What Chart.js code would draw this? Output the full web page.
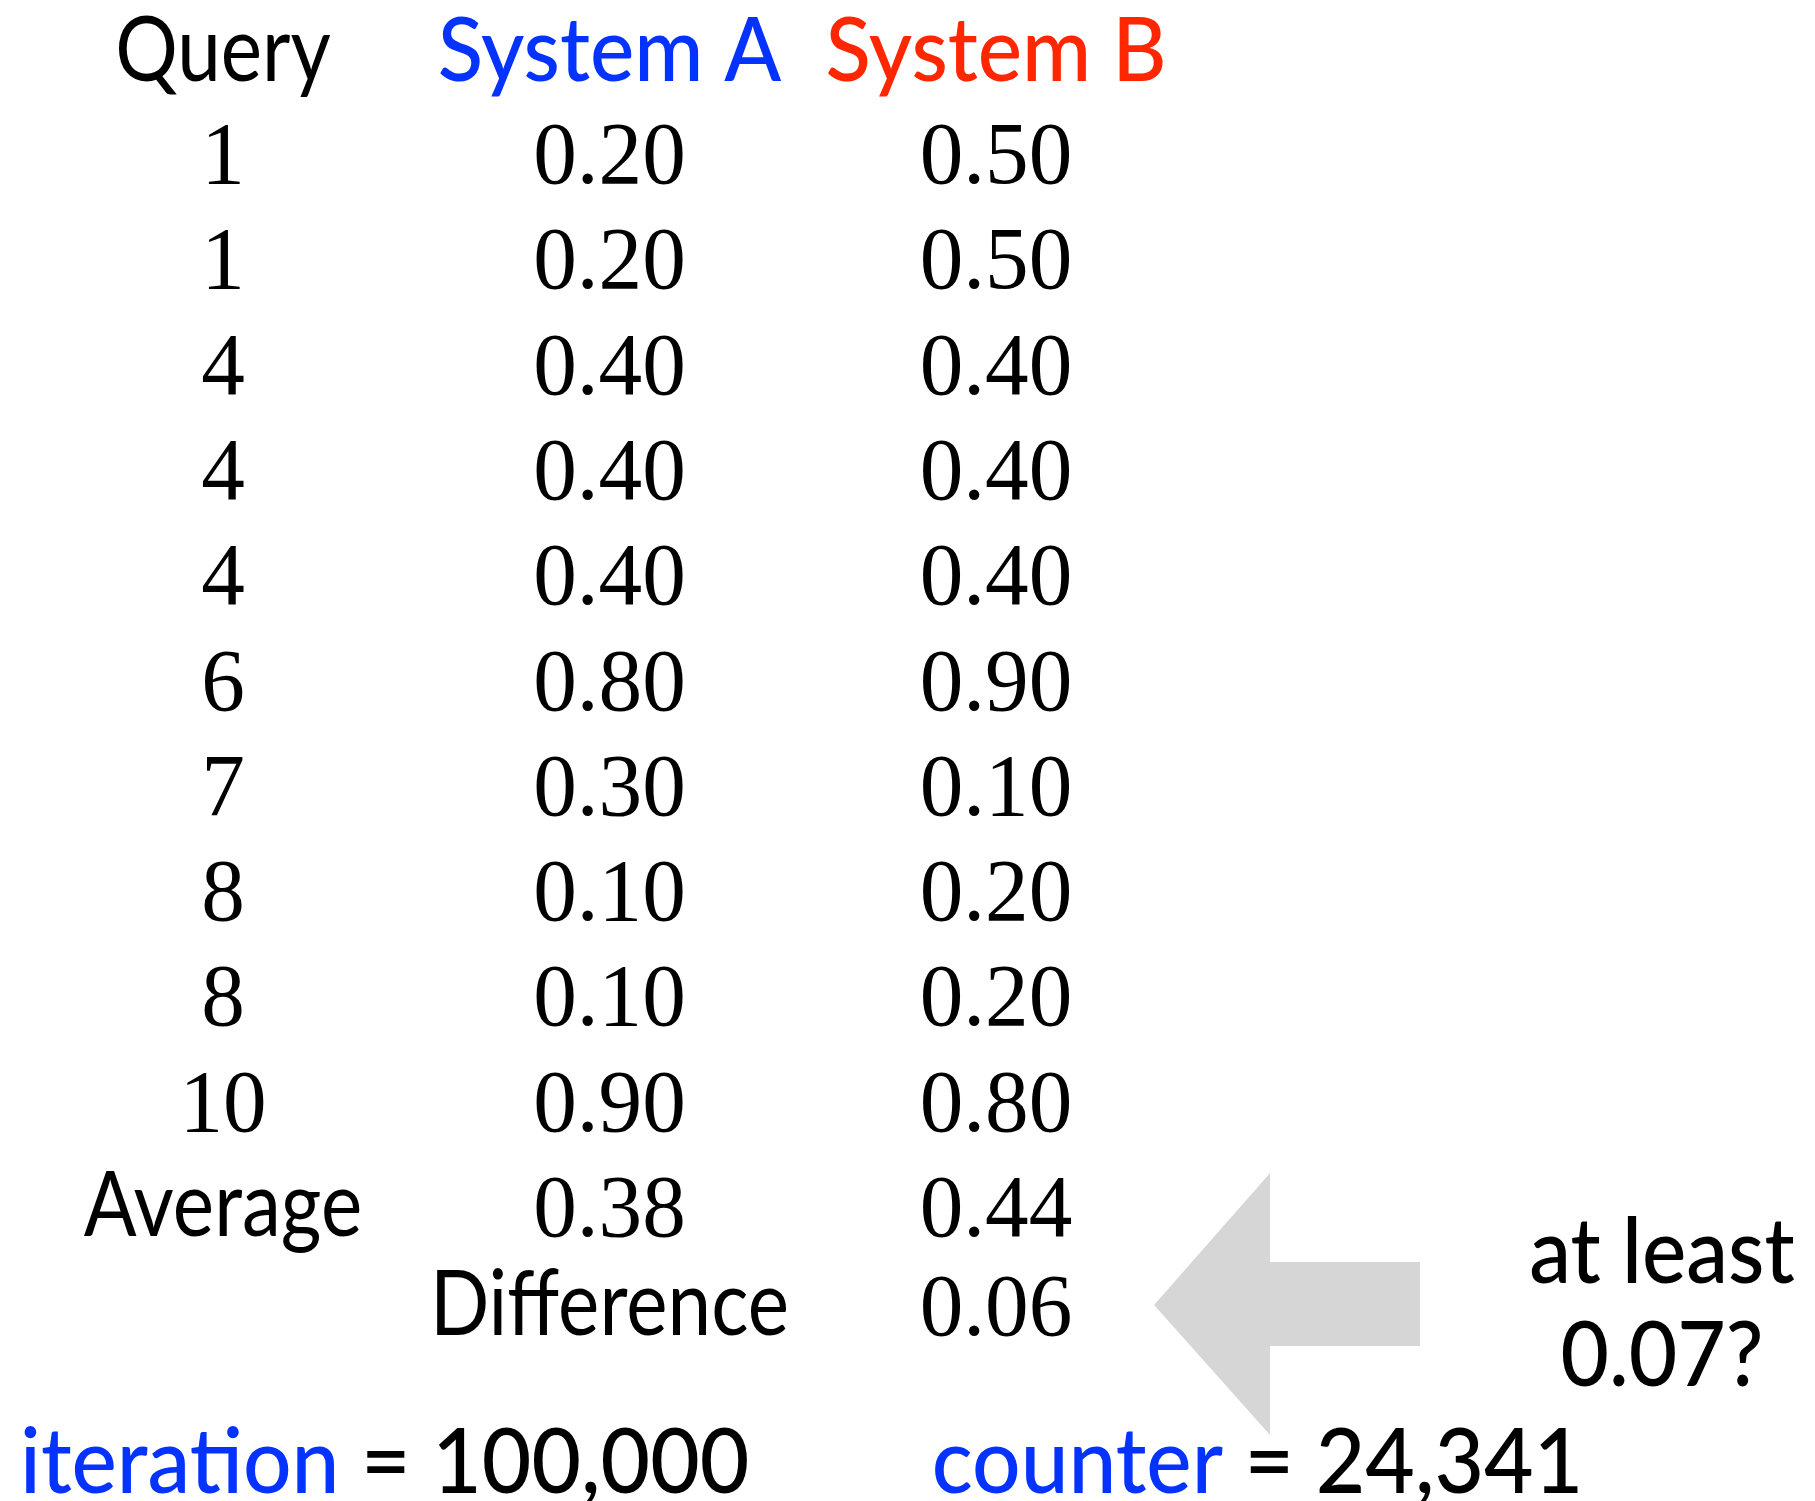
<!DOCTYPE html>
<html>
<head>
<meta charset="utf-8">
<script src="https://cdn.jsdelivr.net/npm/chart.js@4/dist/chart.umd.min.js"></script>
<style>
html,body{margin:0;padding:0;background:#fff;}
#c{display:block;}
</style>
</head>
<body>
<canvas id="c" width="1815" height="1501"></canvas>
<script>
// ---- data ----
const headers = ['Query', 'System A', 'System B'];
const queries = ['1', '1', '4', '4', '4', '6', '7', '8', '8', '10'];
const systemA = [0.20, 0.20, 0.40, 0.40, 0.40, 0.80, 0.30, 0.10, 0.10, 0.90];
const systemB = [0.50, 0.50, 0.40, 0.40, 0.40, 0.90, 0.10, 0.20, 0.20, 0.80];
const averageLabel = 'Average';
const averages = [0.38, 0.44];
const differenceLabel = 'Difference';
const difference = 0.06;
const questionLines = ['at least', '0.07?'];
const iterationLabel = 'iteration';
const iterations = 100000;
const counterLabel = 'counter';
const counter = 24341;

// ---- layout (column / row units of the hidden scales) ----
const COL = {query: 0, a: 1, b: 2, note: 3.723, iterStart: -0.525, counterStart: 1.834};
const ROW = {header: 0.03, first: 1, average: 11, difference: 11.94, note1: 11.446, note2: 12.425, bottom: 13.44};
const arrowShape = [
  {x: 2.409, y: 11.655}, {x: 2.709, y: 10.402}, {x: 2.709, y: 11.247}, {x: 3.097, y: 11.247},
  {x: 3.097, y: 12.045}, {x: 2.709, y: 12.045}, {x: 2.709, y: 12.890}, {x: 2.409, y: 11.655}
];

const BLUE = '#0433FF', RED = '#FF2600', BLACK = '#000000';
const fmt2 = v => v.toFixed(2);
const fmtInt = v => v.toLocaleString('en-US');

const ST = {
  header: {font: '500 88px Lato', sx: 0.95, align: 'center'},
  label: {font: '400 92px Lato', sx: 0.85, align: 'center', color: BLACK},
  num: {font: '89px "Liberation Serif"', sx: 0.98, align: 'center', color: BLACK},
  note: {font: '500 90px Lato', sx: 0.93, align: 'center', color: BLACK},
  bottom: {font: '500 90px Lato', sx: 0.95, align: 'left'}
};

function drawRun(ctx, segs, x, y, st) {
  ctx.save();
  ctx.font = st.font;
  ctx.textBaseline = 'alphabetic';
  ctx.textAlign = 'left';
  let total = 0;
  segs.forEach(s => total += ctx.measureText(s.text).width * st.sx);
  let cx = st.align === 'center' ? x - total / 2 : x;
  segs.forEach(s => {
    ctx.save();
    ctx.translate(cx, y);
    ctx.scale(st.sx, 1);
    ctx.fillStyle = s.color || st.color || BLACK;
    ctx.fillText(s.text, 0, 0);
    ctx.restore();
    cx += ctx.measureText(s.text).width * st.sx;
  });
  ctx.restore();
}

const cellTextPlugin = {
  id: 'cellText',
  afterDatasetsDraw(chart) {
    const ctx = chart.ctx;
    chart.data.datasets.forEach((ds, di) => {
      if (!ds.cellTexts) return;
      const meta = chart.getDatasetMeta(di);
      meta.data.forEach((pt, i) => {
        const t = ds.cellTexts[i];
        const segs = Array.isArray(t) ? t : [{text: t, color: ds.textColors ? ds.textColors[i] : undefined}];
        drawRun(ctx, segs, pt.x, pt.y, ST[ds.textStyle]);
      });
    });
  }
};

function textSet(points, texts, style, colors) {
  return {type: 'scatter', data: points, cellTexts: texts, textStyle: style, textColors: colors,
          pointRadius: 0, pointHoverRadius: 0, showLine: false};
}

const rowIdx = queries.map((_, i) => ROW.first + i);

const datasets = [
  {
    type: 'line', data: arrowShape, fill: 'shape', backgroundColor: '#D6D6D6',
    borderWidth: 0, borderColor: 'rgba(0,0,0,0)', pointRadius: 0, tension: 0
  },
  textSet([{x: COL.query, y: ROW.header}], [headers[0]], 'label'),
  textSet([{x: COL.a, y: ROW.header}, {x: COL.b, y: ROW.header}], [headers[1], headers[2]], 'header', [BLUE, RED]),
  textSet(rowIdx.map(r => ({x: COL.query, y: r})), queries, 'num'),
  textSet(rowIdx.map(r => ({x: COL.a, y: r})), systemA.map(fmt2), 'num'),
  textSet(rowIdx.map(r => ({x: COL.b, y: r})), systemB.map(fmt2), 'num'),
  textSet([{x: COL.query, y: ROW.average}], [averageLabel], 'label'),
  textSet([{x: COL.a, y: ROW.average}, {x: COL.b, y: ROW.average}], averages.map(fmt2), 'num'),
  textSet([{x: COL.a, y: ROW.difference}], [differenceLabel], 'label'),
  textSet([{x: COL.b, y: ROW.difference}], [fmt2(difference)], 'num'),
  textSet([{x: COL.note, y: ROW.note1}, {x: COL.note, y: ROW.note2}], questionLines, 'note'),
  textSet([{x: COL.iterStart, y: ROW.bottom}, {x: COL.counterStart, y: ROW.bottom}], [
    [{text: iterationLabel, color: BLUE}, {text: ' = ' + fmtInt(iterations), color: BLACK}],
    [{text: counterLabel, color: BLUE}, {text: ' = ' + fmtInt(counter), color: BLACK}]
  ], 'bottom')
];

// x: pixel = 223 + 386.5*v ; y: pixel = 183 + 105.3*(v-1)
new Chart(document.getElementById('c'), {
  type: 'scatter',
  data: {datasets},
  options: {
    responsive: false,
    animation: false,
    devicePixelRatio: 1,
    layout: {padding: 0},
    plugins: {legend: {display: false}, tooltip: {enabled: false}},
    events: [],
    scales: {
      x: {type: 'linear', display: false, min: -223 / 386.5, max: (1815 - 223) / 386.5},
      y: {type: 'linear', display: false, reverse: true, min: 1 - 183 / 105.3, max: 1 + (1501 - 183) / 105.3}
    }
  },
  plugins: [cellTextPlugin]
});
</script>
</body>
</html>
